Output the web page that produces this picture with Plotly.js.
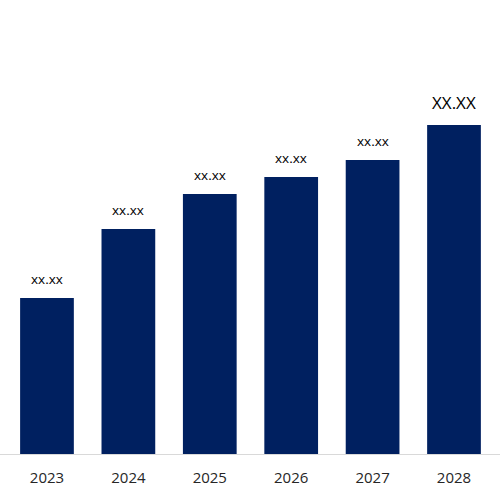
<!DOCTYPE html>
<html>
<head>
<meta charset="utf-8">
<script src="https://cdn.plot.ly/plotly-3.0.1.min.js"></script>
<style>
  html, body { margin: 0; padding: 0; background: #fff; }
  #figure { width: 500px; height: 500px; }
</style>
</head>
<body>
<div id="figure"></div>
<script>
FIGURE = document.getElementById('figure')

// values (arbitrary units)
let years = ['2023', '2024', '2025', '2026', '2027', '2028']
let values = [15.6, 22.5, 26.0, 27.7, 29.4, 32.9]
let labels = ['xx.xx', 'xx.xx', 'xx.xx', 'xx.xx', 'xx.xx', 'XX.XX']

let trace = {
    x: years,
    y: values,
    type: 'bar',
    width: 0.66,
    marker: { color: '#002060' },
    hoverinfo: 'none'
}

let annotations = values.map((v, i) => {
    let last = i === values.length - 1
    return {
        xref: 'x', yref: 'y',
        x: i, y: v,
        text: labels[i],
        showarrow: false,
        xanchor: 'center',
        yanchor: 'bottom',
        yshift: last ? 9 : 8,
        font: { family: 'Open Sans, sans-serif', size: last ? 17 : 13.5, color: '#000' }
    }
})

let layout = {
    width: 500, height: 500,
    margin: { l: 0, r: 0, t: 0, b: 46 },
    paper_bgcolor: '#fff',
    plot_bgcolor: '#fff',
    showlegend: false,
    xaxis: {
        type: 'category',
        range: [-0.577, 5.565],
        showline: true,
        linecolor: '#d9d9d9',
        linewidth: 1,
        showgrid: false,
        ticks: '',
        ticklabelstandoff: 10,
        tickfont: { family: 'Open Sans, sans-serif', size: 15, color: '#262626' }
    },
    yaxis: {
        range: [0, 45.4],
        showticklabels: false,
        showline: false,
        showgrid: false,
        zeroline: false
    },
    annotations: annotations
}

Plotly.newPlot(FIGURE, [trace], layout, { staticPlot: true })
</script>
</body>
</html>
